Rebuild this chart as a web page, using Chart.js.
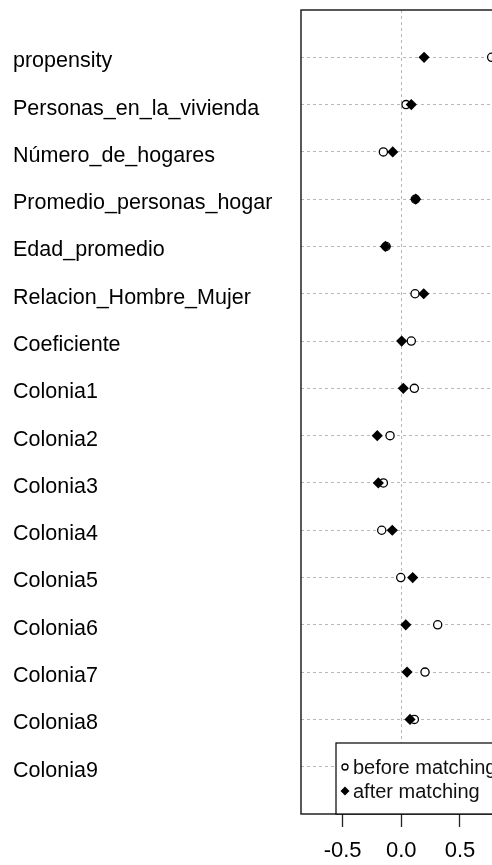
<!DOCTYPE html>
<html>
<head>
<meta charset="utf-8">
<script src="https://cdn.jsdelivr.net/npm/chart.js@4.4.1/dist/chart.umd.min.js"></script>
<style>
html,body{margin:0;padding:0;overflow:hidden;background:#fff;}
canvas{display:block;}
</style>
</head>
<body>
<canvas id="c" width="560" height="865" style="width:560px;height:865px"></canvas>
<script>
// ---- data ----
const variables = ['propensity','Personas_en_la_vivienda','Número_de_hogares','Promedio_personas_hogar',
  'Edad_promedio','Relacion_Hombre_Mujer','Coeficiente','Colonia1','Colonia2','Colonia3','Colonia4',
  'Colonia5','Colonia6','Colonia7','Colonia8','Colonia9'];
const beforeMatching = [0.77, 0.04, -0.153, 0.12, -0.13, 0.117, 0.085, 0.111, -0.096, -0.153, -0.167,
  -0.005, 0.31, 0.202, 0.111, null];
const afterMatching = [0.194, 0.085, -0.073, 0.123, -0.136, 0.191, 0.003, 0.017, -0.205, -0.196, -0.077,
  0.097, 0.038, 0.049, 0.074, null];
const xTicks = [-0.5, 0.0, 0.5, 1.0];
const legendLabels = ['before matching', 'after matching'];

const n = variables.length;
const rowValue = i => n - i;               // top row = n, bottom row = 1
const toPoints = arr => arr.map((v, i) => ({x: v, y: rowValue(i)}));

const FONT = '"Liberation Sans", Arial, Helvetica, sans-serif';

const boxAndLegend = {
  id: 'boxAndLegend',
  afterDraw(chart) {
    const {ctx, chartArea: a} = chart;
    ctx.save();
    // plot box
    ctx.strokeStyle = '#222';
    ctx.lineWidth = 1.5;
    ctx.strokeRect(a.left, a.top, a.right - a.left, a.bottom - a.top);
    // legend box (bottom right of plot)
    const left = a.left + 35, top = a.bottom - 71;
    ctx.fillStyle = '#fff';
    ctx.fillRect(left, top, a.right - left, a.bottom - top);
    ctx.strokeStyle = '#000';
    ctx.lineWidth = 1.2;
    ctx.strokeRect(left, top, a.right - left, a.bottom - top);
    ctx.font = '20px ' + FONT;
    ctx.textBaseline = 'middle';
    ctx.textAlign = 'left';
    chart.data.datasets.forEach((ds) => {
      const idx = legendLabels.indexOf(ds.label);
      const y = top + 24 + idx * 24;
      const mx = left + 9;
      ctx.fillStyle = ds.backgroundColor;
      ctx.strokeStyle = ds.borderColor;
      ctx.lineWidth = ds.borderWidth;
      Chart.helpers.drawPoint(ctx, {
        pointStyle: ds.pointStyle,
        radius: ds.pointStyle === 'circle' ? 3 : 4.5,
        rotation: 0,
        borderWidth: ds.borderWidth
      }, mx, y);
      ctx.fillStyle = '#111';
      ctx.fillText(ds.label, left + 17, y + 1);
    });
    ctx.restore();
  }
};

new Chart(document.getElementById('c'), {
  type: 'scatter',
  data: {
    datasets: [
      {
        label: legendLabels[0],
        data: toPoints(beforeMatching),
        pointStyle: 'circle',
        radius: 4.1,
        borderWidth: 1.3,
        borderColor: '#000',
        backgroundColor: '#fff',
        order: 2
      },
      {
        label: legendLabels[1],
        data: toPoints(afterMatching),
        pointStyle: 'rectRot',
        radius: 5.6,
        borderWidth: 0,
        borderColor: '#000',
        backgroundColor: '#000',
        order: 1
      }
    ]
  },
  options: {
    responsive: false,
    animation: false,
    events: [],
    layout: {padding: {left: 13, top: 10, right: 20, bottom: 0}},
    plugins: {legend: {display: false}, tooltip: {enabled: false}},
    scales: {
      x: {
        type: 'linear',
        min: -0.855,
        max: 1.182,
        afterBuildTicks: s => { s.ticks = xTicks.map(v => ({value: v})); },
        afterFit: s => { s.height = 51; s.paddingLeft = 0; s.paddingRight = 0; },
        border: {display: false, dash: [3, 3]},
        grid: {
          color: c => (c.tick && c.tick.value === 0) ? '#b8b8b8' : 'rgba(0,0,0,0)',
          lineWidth: 1,
          drawTicks: true,
          tickLength: 13,
          tickColor: '#222',
          tickWidth: 1.3
        },
        ticks: {
          padding: 11,
          color: '#000',
          font: {family: FONT, size: 22},
          maxRotation: 0,
          autoSkip: false,
          callback: v => v.toFixed(1)
        }
      },
      y: {
        type: 'linear',
        min: 0,
        max: n + 1,
        afterBuildTicks: s => { s.ticks = variables.map((_, i) => ({value: rowValue(i)})); },
        afterFit: s => { s.width = 288; s.paddingTop = 0; s.paddingBottom = 0; },
        border: {display: false, dash: [3, 3]},
        grid: {
          color: '#b8b8b8',
          lineWidth: 1,
          drawTicks: false
        },
        ticks: {
          crossAlign: 'far',
          padding: 0,
          labelOffset: 4,
          color: '#000',
          font: {family: FONT, size: 21.5},
          autoSkip: false,
          callback: v => variables[n - v]
        }
      }
    }
  },
  plugins: [boxAndLegend]
});
</script>
</body>
</html>
